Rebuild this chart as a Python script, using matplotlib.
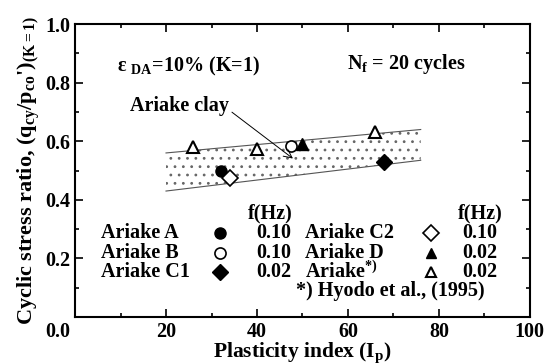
import numpy as np
import matplotlib
matplotlib.use("Agg")
import matplotlib.pyplot as plt
from matplotlib.ticker import MultipleLocator

plt.rcParams['font.family'] = ['Liberation Serif', 'DejaVu Serif']
plt.rcParams['font.weight'] = 'bold'
plt.rcParams['axes.labelweight'] = 'bold'
plt.rcParams['mathtext.fontset'] = 'custom'
plt.rcParams['mathtext.rm'] = 'Liberation Serif:bold'
plt.rcParams['mathtext.it'] = 'Liberation Serif:bold'
plt.rcParams['mathtext.bf'] = 'Liberation Serif:bold'
plt.rcParams['hatch.linewidth'] = 0.8
plt.rcParams['hatch.color'] = '#666666'

# data points (Ip, stress ratio)
ariake_a = ([32.0], [0.50])
ariake_b = ([47.5], [0.585])
ariake_c1 = ([68.0], [0.53])
ariake_c2 = ([34.0], [0.475])
ariake_d = ([50.0], [0.59])
ariake_hyodo = ([26.0, 40.0, 66.0], [0.58, 0.575, 0.63])

# band "Ariake clay"
band_x = [20, 76]
band_upper = [0.56, 0.64]
band_lower = [0.43, 0.535]

fig = plt.figure(figsize=(5.56, 3.64), dpi=100)
ax = fig.add_axes([0.135, 0.129, 0.818, 0.805])

ax.fill_between(band_x, band_lower, band_upper, facecolor='white',
                edgecolor='#666666', hatch='..', linewidth=0)
ax.plot(band_x, band_upper, color='#555555', lw=0.8)
ax.plot(band_x, band_lower, color='#555555', lw=0.8)

ms = 8
ax.plot(*ariake_a, 'o', color='k', ms=ms)
ax.plot(*ariake_b, 'o', mfc='white', mec='k', mew=1.2, ms=ms)
ax.plot(*ariake_c1, 'D', color='k', ms=ms)
ax.plot(*ariake_c2, 'D', mfc='white', mec='k', mew=1.2, ms=ms)
ax.plot(*ariake_d, '^', color='k', ms=ms)
ax.plot(*ariake_hyodo, '^', mfc='white', mec='k', mew=1.5, ms=ms, ls='none')

fs = 14.5
ax.text(9.3, 0.855, "ε $_{\\rm DA}$=10% (K=1)", fontsize=fs, va='center')
ax.text(59.7, 0.865, "N$_{\\rm f}$ = 20 cycles", fontsize=fs, va='center')
ax.annotate("Ariake clay", xy=(47.9, 0.541), xytext=(23, 0.72),
            fontsize=fs, ha='center', va='center',
            arrowprops=dict(arrowstyle='->', color='k', lw=0.7,
                            shrinkA=0, shrinkB=0, relpos=(1.0, 0.3)))

# legend block
rows = [0.287, 0.218, 0.154]
left_names = ["Ariake A", "Ariake B", "Ariake C1"]
left_freq = ["0.10", "0.10", "0.02"]
right_names = ["Ariake C2", "Ariake D", "Ariake$^{*)}$"]
right_freq = ["0.10", "0.02", "0.02"]
for y, n, f in zip(rows, left_names, left_freq):
    ax.text(5.8, y, n, fontsize=fs, va='center')
    ax.text(43.7, y, f, fontsize=fs, va='center', ha='center')
for y, n, f in zip(rows, right_names, right_freq):
    ax.text(50.5, y, n, fontsize=fs, va='center')
    ax.text(89, y, f, fontsize=fs, va='center', ha='center')
ax.text(43, 0.355, "f(Hz)", fontsize=fs, va='center', ha='center')
ax.text(89, 0.355, "f(Hz)", fontsize=fs, va='center', ha='center')
ax.text(90, 0.089, "*) Hyodo et al., (1995)", fontsize=fs, va='center', ha='right')

mx = 31.8
ax.plot([mx], [rows[0]], 'o', color='k', ms=ms)
ax.plot([mx], [rows[1]], 'o', mfc='white', mec='k', mew=1.2, ms=ms)
ax.plot([mx], [rows[2]], 'D', color='k', ms=ms)
mx2 = 78.2
ax.plot([mx2], [rows[0]], 'D', mfc='white', mec='k', mew=1.2, ms=ms)
ax.plot([mx2], [rows[1]], '^', color='k', ms=ms - 1)
ax.plot([mx2], [rows[2]], '^', mfc='white', mec='k', mew=1.5, ms=ms - 1)

ax.set_xlim(0, 100)
ax.set_ylim(0, 1.0)
ax.xaxis.set_minor_locator(MultipleLocator(10))
ax.yaxis.set_major_locator(MultipleLocator(0.2))
ax.yaxis.set_minor_locator(MultipleLocator(0.1))
ax.set_xticks([0, 20, 40, 60, 80, 100])
ax.set_xticklabels(["", "20", "40", "60", "80", "100"])
ax.tick_params(which='both', direction='in', top=True, right=True,
               labelsize=fs, width=1.2)
ax.tick_params(which='major', length=6)
ax.tick_params(which='minor', length=3)
for lab in ax.get_xticklabels() + ax.get_yticklabels():
    lab.set_fontweight('bold')
for s in ax.spines.values():
    s.set_linewidth(1.5)
ax.yaxis.set_major_formatter(matplotlib.ticker.FuncFormatter(
    lambda v, p: "" if v == 0 else f"{v:.1f}"))
# shared origin label sits below the corner
ax.annotate("0.0", xy=(0, 0), xycoords='axes fraction', xytext=(-3.5, -3.5),
            textcoords='offset points', ha='right', va='top', fontsize=fs)

ax.set_xlabel("Plasticity index (I$_{\\rm p}$)", fontsize=15.5, labelpad=-1)
ax.set_ylabel("Cyclic stress ratio, (q$_{\\rm cy}$/p$_{\\rm co}$')$_{\\rm (K=1)}$",
              fontsize=16, labelpad=2)

fig.savefig("out.png", dpi=100)
